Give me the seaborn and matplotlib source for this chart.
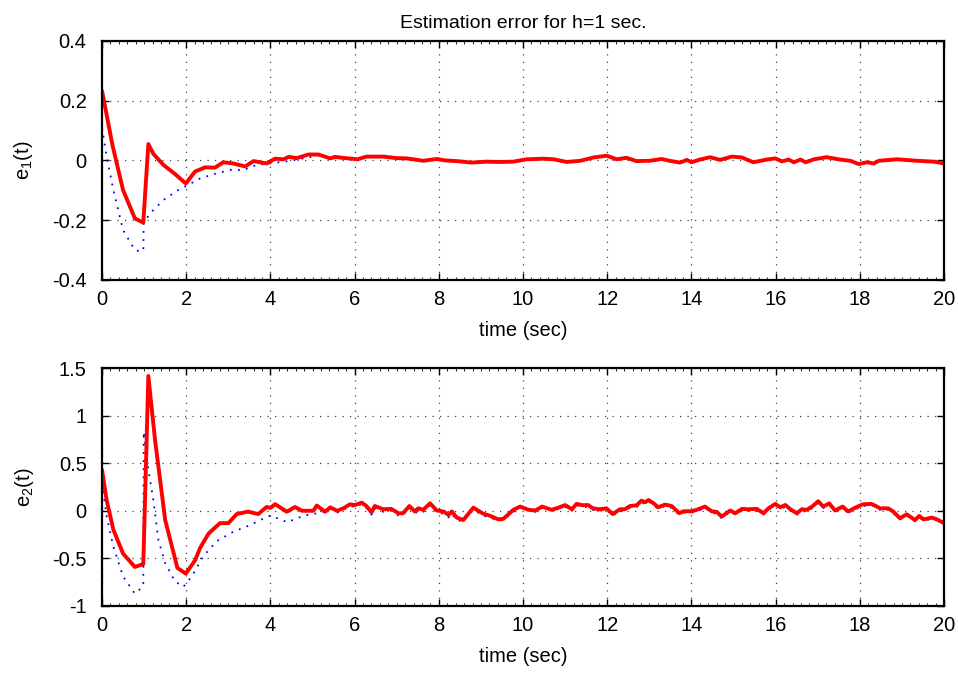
import matplotlib
matplotlib.use("Agg")
import matplotlib.pyplot as plt
import seaborn as sns
import pandas as pd
from matplotlib.ticker import MultipleLocator

# ---------------- data ----------------
e1_red_t = [0.0, 0.25, 0.5, 0.78, 0.98, 1.1, 1.22, 1.46, 1.73, 1.99, 2.21, 2.45, 2.68, 2.88,
            3.12, 3.4, 3.6, 3.91, 4.11, 4.31, 4.43, 4.63, 4.9, 5.14, 5.42, 5.53, 5.77, 6.07,
            6.28, 6.68, 6.99, 7.23, 7.39, 7.63, 7.95, 8.16, 8.42, 8.78, 9.12, 9.44, 9.76,
            10.09, 10.48, 10.73, 11.04, 11.36, 11.67, 11.99, 12.22, 12.46, 12.69, 13.01,
            13.29, 13.48, 13.73, 13.89, 14.0, 14.2, 14.44, 14.68, 14.96, 15.2, 15.47, 15.79,
            15.99, 16.15, 16.31, 16.43, 16.59, 16.71, 16.91, 17.21, 17.53, 17.77, 17.97,
            18.17, 18.33, 18.45, 18.88, 19.36, 19.76, 20.0]
e1_red = [0.233, 0.05, -0.099, -0.194, -0.208, 0.055, 0.022, -0.015, -0.045, -0.077, -0.037,
          -0.023, -0.024, -0.006, -0.01, -0.02, -0.002, -0.01, 0.006, 0.004, 0.012, 0.008,
          0.02, 0.02, 0.007, 0.012, 0.008, 0.004, 0.013, 0.013, 0.008, 0.007, 0.004, -0.001,
          0.005, 0.0, -0.002, -0.007, -0.004, -0.005, -0.004, 0.004, 0.006, 0.004, -0.005,
          -0.001, 0.01, 0.016, 0.004, 0.009, -0.002, -0.001, 0.005, -0.001, -0.007, 0.002,
          -0.006, 0.003, 0.011, 0.002, 0.013, 0.01, -0.006, 0.003, 0.007, -0.003, 0.003,
          -0.006, 0.003, -0.006, 0.004, 0.011, 0.003, -0.001, -0.012, -0.006, -0.01, -0.001,
          0.004, -0.001, -0.004, -0.01]

e1_blue_t = [0.0, 0.11, 0.27, 0.5, 0.78, 0.94, 0.98, 0.99, 1.14, 1.46, 1.81, 2.0, 2.33, 2.72,
             3.04, 3.36, 3.67, 3.96, 4.43, 4.9, 5.14, 5.42, 5.77, 6.07, 6.28, 6.68, 6.99,
             7.23, 7.39, 7.63, 7.95, 8.16, 8.42, 8.78, 9.12, 9.44, 9.76, 10.09, 10.48, 10.73,
             11.04, 11.36, 11.67, 11.99, 12.22, 12.46, 12.69, 13.01, 13.29, 13.48, 13.73,
             13.89, 14.0, 14.2, 14.44, 14.68, 14.96, 15.2, 15.47, 15.79, 15.99, 16.15,
             16.31, 16.43, 16.59, 16.71, 16.91, 17.21, 17.53, 17.77, 17.97, 18.17, 18.33,
             18.45, 18.88, 19.36, 19.76, 20.0]
e1_blue = [0.11, 0.013, -0.099, -0.233, -0.3, -0.305, -0.3, -0.21, -0.177, -0.132, -0.099,
           -0.085, -0.06, -0.043, -0.032, -0.032, -0.015, -0.01, -0.002, 0.01, 0.017, 0.008,
           0.006, 0.003, 0.011, 0.012, 0.007, 0.006, 0.003, -0.002, 0.004, -0.001, -0.003,
           -0.008, -0.005, -0.006, -0.005, 0.003, 0.005, 0.003, -0.006, -0.002, 0.009, 0.015,
           0.003, 0.008, -0.003, -0.002, 0.004, -0.002, -0.008, 0.001, -0.007, 0.002, 0.01,
           0.001, 0.012, 0.009, -0.007, 0.002, 0.006, -0.004, 0.002, -0.007, 0.002, -0.007,
           0.003, 0.01, 0.002, -0.002, -0.013, -0.007, -0.011, -0.002, 0.003, -0.002,
           -0.005, -0.011]

e2_red_t = [0.0, 0.11, 0.27, 0.5, 0.78, 0.98, 1.1, 1.26, 1.5, 1.79, 1.99, 2.21, 2.33, 2.53,
            2.65, 2.8, 3.0, 3.2, 3.47, 3.71, 3.91, 4.0, 4.11, 4.39, 4.58, 4.75, 5.02, 5.1,
            5.3, 5.42, 5.58, 5.73, 5.89, 6.0, 6.17, 6.28, 6.4, 6.48, 6.68, 6.87, 7.04, 7.15,
            7.3, 7.43, 7.51, 7.63, 7.79, 7.95, 8.11, 8.23, 8.31, 8.42, 8.58, 8.82, 9.05,
            9.2, 9.41, 9.53, 9.77, 9.93, 10.13, 10.29, 10.45, 10.68, 10.84, 11.0, 11.16,
            11.27, 11.42, 11.54, 11.66, 11.82, 11.98, 12.13, 12.3, 12.42, 12.54, 12.7, 12.81,
            12.9, 12.98, 13.1, 13.21, 13.37, 13.53, 13.71, 13.81, 14.0, 14.12, 14.32, 14.48,
            14.6, 14.72, 14.92, 15.04, 15.2, 15.35, 15.55, 15.71, 15.83, 15.99, 16.11,
            16.23, 16.35, 16.5, 16.62, 16.74, 16.88, 17.01, 17.13, 17.27, 17.41, 17.59,
            17.72, 17.91, 18.07, 18.28, 18.48, 18.67, 18.79, 18.95, 19.11, 19.31, 19.41,
            19.51, 19.71, 19.83, 20.0]
e2_red = [0.43, 0.11, -0.2, -0.45, -0.59, -0.56, 1.416, 0.74, -0.097, -0.6, -0.66, -0.52,
          -0.39, -0.24, -0.19, -0.13, -0.13, -0.034, -0.009, -0.034, 0.04, 0.03, 0.07, -0.01,
          0.04, 0.0, 0.0, 0.055, -0.01, 0.037, 0.0, 0.026, 0.068, 0.06, 0.085, 0.05, -0.016,
          0.05, 0.016, 0.02, -0.026, -0.026, 0.05, -0.007, 0.026, 0.01, 0.078, 0.003,
          -0.007, -0.044, -0.007, -0.07, -0.097, 0.033, -0.03, -0.05, -0.09, -0.085, 0.01,
          0.044, 0.01, 0.003, 0.044, 0.01, 0.033, 0.06, 0.016, 0.072, 0.058, 0.061, 0.026,
          0.016, 0.026, -0.035, 0.016, 0.016, 0.05, 0.058, 0.106, 0.09, 0.113, 0.078, 0.037,
          0.065, 0.05, -0.026, -0.005, -0.005, 0.01, 0.044, -0.005, -0.012, -0.061, 0.003,
          -0.026, 0.02, 0.016, 0.02, -0.026, 0.026, 0.072, 0.037, 0.061, 0.016, -0.026,
          0.016, 0.01, 0.05, 0.1, 0.044, 0.078, 0.003, 0.044, -0.007, 0.037, 0.068, 0.072,
          0.026, 0.026, -0.007, -0.079, -0.037, -0.097, -0.054, -0.09, -0.072, -0.09, -0.13]

e2_blue_t = [0.0, 0.11, 0.27, 0.5, 0.78, 0.94, 0.98, 0.99, 1.1, 1.22, 1.34, 1.5, 1.73, 1.93,
             2.13, 2.4, 2.72, 3.12, 3.52, 3.84, 4.0, 4.4, 4.8, 5.2, 5.42, 5.58, 5.73, 5.89,
             6.0, 6.17, 6.28, 6.4, 6.48, 6.68, 6.87, 7.04, 7.15, 7.3, 7.43, 7.51, 7.63, 7.79,
             7.95, 8.11, 8.23, 8.31, 8.42, 8.58, 8.82, 9.05, 9.2, 9.41, 9.53, 9.77, 9.93,
             10.13, 10.29, 10.45, 10.68, 10.84, 11.0, 11.16, 11.27, 11.42, 11.54, 11.66,
             11.82, 11.98, 12.13, 12.3, 12.42, 12.54, 12.7, 12.81, 12.9, 12.98, 13.1, 13.21,
             13.37, 13.53, 13.71, 13.81, 14.0, 14.12, 14.32, 14.48, 14.6, 14.72, 14.92,
             15.04, 15.2, 15.35, 15.55, 15.71, 15.83, 15.99, 16.11, 16.23, 16.35, 16.5,
             16.62, 16.74, 16.88, 17.01, 17.13, 17.27, 17.41, 17.59, 17.72, 17.91, 18.07,
             18.28, 18.48, 18.67, 18.79, 18.95, 19.11, 19.31, 19.41, 19.51, 19.71, 19.83, 20.0]
e2_blue = [0.29, -0.06, -0.38, -0.69, -0.87, -0.81, -0.78, 0.83, 0.43, 0.11, -0.31, -0.55,
           -0.74, -0.8, -0.69, -0.48, -0.32, -0.22, -0.15, -0.08, -0.05, -0.12, -0.05, -0.02,
           0.02, -0.02, 0.01, 0.05, 0.04, 0.07, 0.03, -0.04, 0.03, -0.01, 0.0, -0.05, -0.04,
           0.03, -0.03, 0.0, -0.01, 0.06, -0.02, -0.03, -0.07, -0.03, -0.1, -0.11, 0.01,
           -0.05, -0.07, -0.1, -0.1, -0.01, 0.05, 0.0, -0.01, 0.03, 0.0, 0.02, 0.04, 0.0,
           0.06, 0.04, 0.04, 0.01, 0.0, 0.01, -0.05, 0.0, 0.0, 0.03, 0.04, 0.09, 0.07, 0.1,
           0.06, 0.02, 0.05, 0.03, -0.04, -0.02, -0.02, -0.01, 0.03, -0.02, -0.03, -0.08,
           -0.01, -0.04, 0.0, 0.0, 0.0, -0.04, 0.01, 0.06, 0.02, 0.04, 0.0, -0.04, 0.0,
           -0.01, 0.03, 0.08, 0.03, 0.06, -0.01, 0.03, -0.02, 0.02, 0.05, 0.06, 0.01, 0.01,
           -0.02, -0.09, -0.05, -0.11, -0.07, -0.1, -0.09, -0.1, -0.14]

x_ticks = [0, 2, 4, 6, 8, 10, 12, 14, 16, 18, 20]
e1_ticks = [-0.4, -0.2, 0, 0.2, 0.4]
e1_ticklabels = ["-0.4", "-0.2", "0", "0.2", "0.4"]
e2_ticks = [-1, -0.5, 0, 0.5, 1, 1.5]
e2_ticklabels = ["-1", "-0.5", "0", "0.5", "1", "1.5"]

title = "Estimation error for h=1 sec."
xlabel = "time (sec)"
ylabel1 = r"e$_1$(t)"
ylabel2 = r"e$_2$(t)"

# ---------------- styling ----------------
sns.set_theme(style="white")
plt.rcParams["font.family"] = ["Liberation Sans", "DejaVu Sans"]
plt.rcParams["mathtext.fontset"] = "custom"
plt.rcParams["mathtext.rm"] = "Liberation Sans"
plt.rcParams["mathtext.it"] = "Liberation Sans"
plt.rcParams["mathtext.default"] = "regular"
plt.rcParams["text.color"] = "black"
plt.rcParams["axes.labelcolor"] = "black"
plt.rcParams["axes.titlecolor"] = "black"
plt.rcParams["xtick.color"] = "black"
plt.rcParams["ytick.color"] = "black"
plt.rcParams["xtick.labelcolor"] = "black"
plt.rcParams["ytick.labelcolor"] = "black"

fig = plt.figure(figsize=(9.58, 6.76), dpi=100)
fig.patch.set_facecolor("white")
ax1 = fig.add_axes([0.1065, 0.5858, 0.879, 0.3536])
ax2 = fig.add_axes([0.1065, 0.1036, 0.879, 0.352])

FS = 14.5


def style_axis(ax, yticks, yticklabels, ylim, ylabel):
    ax.set_xlim(0, 20)
    ax.set_ylim(*ylim)
    ax.set_xticks(x_ticks)
    ax.set_xticklabels([str(v) for v in x_ticks], fontsize=FS)
    ax.set_yticks(yticks)
    ax.set_yticklabels(yticklabels, fontsize=FS)
    ax.xaxis.set_minor_locator(MultipleLocator(0.2))
    ax.tick_params(which="major", direction="in", length=5, width=1.0,
                   top=True, right=True, bottom=True, left=True, color="black",
                   labelcolor="black")
    ax.tick_params(axis="x", which="major", pad=7)
    ax.tick_params(axis="y", which="major", pad=11)
    ax.tick_params(which="minor", direction="in", length=2, width=0.6,
                   top=True, bottom=True, color="black")
    ax.grid(True, which="major", linestyle=(0, (1, 5)), linewidth=0.9, color="#444444")
    for s in ax.spines.values():
        s.set_visible(True)
        s.set_color("black")
        s.set_linewidth(1.6)
    ax.set_facecolor("white")
    ax.set_xlabel(xlabel, fontsize=FS, labelpad=9, color="black")
    ax.set_ylabel(ylabel, fontsize=FS, labelpad=12, color="black")


df1r = pd.DataFrame({"t": e1_red_t, "v": e1_red})
df1b = pd.DataFrame({"t": e1_blue_t, "v": e1_blue})
df2r = pd.DataFrame({"t": e2_red_t, "v": e2_red})
df2b = pd.DataFrame({"t": e2_blue_t, "v": e2_blue})

sns.lineplot(data=df1b, x="t", y="v", ax=ax1, color="blue", linewidth=1.3,
             linestyle=(0, (1, 3.5)), estimator=None, sort=False)
sns.lineplot(data=df1r, x="t", y="v", ax=ax1, color="red", linewidth=2.8,
             estimator=None, sort=False)
sns.lineplot(data=df2b, x="t", y="v", ax=ax2, color="blue", linewidth=1.3,
             linestyle=(0, (1, 3.5)), estimator=None, sort=False)
sns.lineplot(data=df2r, x="t", y="v", ax=ax2, color="red", linewidth=2.8,
             estimator=None, sort=False)

style_axis(ax1, e1_ticks, e1_ticklabels, (-0.4, 0.4), ylabel1)
style_axis(ax2, e2_ticks, e2_ticklabels, (-1, 1.5), ylabel2)
ax1.set_title(title, fontsize=14, pad=9, color="black")

fig.savefig("out.png", dpi=100, facecolor="white")
